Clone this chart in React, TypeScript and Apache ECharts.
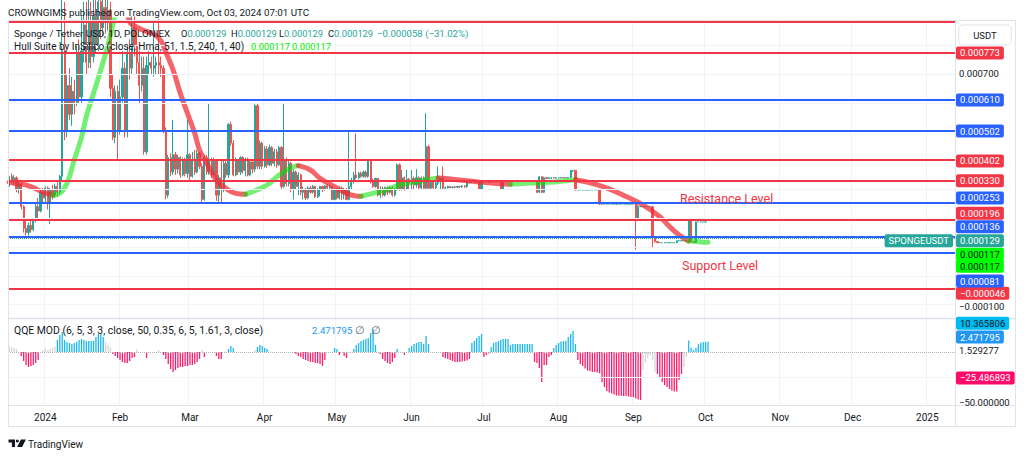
import React, { useEffect, useRef } from "react";
import * as echarts from "echarts";

const FONT = "Roboto, 'Noto Sans', Arial, sans-serif";
const TEXT = "#131722";
const UP = "#26a69a";
const DOWN = "#ef5350";
const RED = "#f23645";
const BLUE = "#2962ff";
const LIME = "#00ee00";
const HULL_UP = "rgba(0, 225, 0, 0.55)";
const HULL_DOWN = "rgba(242, 40, 50, 0.72)";
const QQE_BLUE = "#1cb8ea";
const QQE_PINK = "#fd1b6b";
const QQE_GRAY = "#d5d5d5";
const FRAME = "#e0e3eb";
const GRID = "#f0f3fa";

const FIRST_DAY = Date.UTC(2023, 11, 17);
const AXIS_DAYS = 393;
const MONTH_ABBR = ["Jan", "Feb", "Mar", "Apr", "May", "Jun", "Jul", "Aug", "Sep", "Oct", "Nov", "Dec"];

// Daily prices in millionths of USDT: [open, high, low, close]
const ohlcDec2023 = [
  [310, 355, 300, 345], [345, 355, 320, 330], [330, 350, 315, 340], [340, 345, 290, 300], [300, 330, 285, 320],
  [320, 325, 230, 240], [240, 245, 150, 165], [165, 195, 140, 150], [150, 185, 140, 175], [175, 195, 150, 160],
  [160, 200, 155, 195], [195, 250, 185, 240], [240, 270, 200, 225], [225, 300, 220, 290], [290, 305, 250, 270],
];
const ohlcJan = [
  [270, 310, 255, 305], [305, 310, 230, 250], [250, 305, 180, 300], [300, 315, 265, 280], [280, 320, 270, 310],
  [310, 325, 275, 290], [290, 350, 285, 345], [345, 1000, 330, 780], [780, 950, 470, 500], [500, 700, 480, 660],
  [660, 720, 540, 560], [560, 690, 520, 640], [640, 680, 560, 600], [600, 800, 590, 770], [770, 820, 600, 620],
  [620, 900, 600, 780], [780, 950, 740, 870], [870, 950, 700, 740], [740, 980, 720, 880], [880, 950, 720, 760],
  [760, 1000, 740, 900], [900, 960, 770, 800], [800, 1050, 780, 950], [950, 1050, 820, 860], [860, 1000, 830, 930],
  [930, 990, 840, 880], [880, 1000, 850, 920], [920, 950, 620, 650], [650, 700, 470, 480], [480, 660, 460, 640],
  [640, 660, 400, 500],
];
const ohlcFeb = [
  [500, 680, 490, 620], [620, 780, 600, 720], [720, 740, 480, 500], [500, 800, 480, 770], [770, 820, 680, 720],
  [720, 900, 700, 860], [860, 900, 760, 800], [800, 860, 700, 740], [740, 780, 600, 660], [660, 760, 640, 720],
  [720, 760, 420, 430], [430, 760, 420, 730], [730, 780, 700, 740], [740, 760, 700, 720], [720, 880, 690, 730],
  [730, 760, 700, 740], [740, 890, 700, 730], [730, 760, 690, 720], [720, 730, 495, 505], [505, 515, 265, 280],
  [280, 420, 270, 410], [410, 425, 345, 360], [360, 540, 350, 420], [420, 430, 350, 370], [370, 420, 355, 410],
  [410, 415, 340, 350], [350, 410, 345, 400], [400, 410, 345, 355], [355, 540, 340, 420],
];
const ohlcMar = [
  [420, 425, 330, 345], [345, 430, 340, 400], [400, 436, 350, 360], [360, 436, 355, 425], [425, 430, 370, 380],
  [380, 390, 255, 265], [265, 420, 260, 410], [410, 420, 350, 360], [360, 598, 350, 400], [400, 410, 340, 350],
  [350, 410, 345, 400], [400, 405, 260, 280], [280, 350, 255, 340], [340, 400, 250, 300], [300, 400, 290, 390],
  [390, 400, 340, 350], [350, 530, 340, 525], [525, 535, 450, 460], [460, 470, 345, 350], [350, 410, 345, 400],
  [400, 405, 350, 360], [360, 415, 350, 410], [410, 415, 355, 365], [365, 410, 345, 405], [405, 410, 345, 350],
  [350, 400, 345, 395], [395, 400, 355, 370], [370, 600, 360, 590], [590, 598, 370, 380], [380, 470, 370, 460],
  [460, 465, 370, 380],
];
const ohlcApr = [
  [380, 450, 375, 440], [440, 450, 375, 385], [385, 455, 380, 445], [445, 450, 380, 390], [390, 440, 380, 430],
  [430, 440, 375, 385], [385, 450, 380, 445], [445, 450, 300, 310], [310, 598, 305, 400], [400, 410, 310, 320],
  [320, 400, 310, 390], [390, 395, 290, 300], [300, 370, 265, 360], [360, 365, 300, 310], [310, 360, 280, 350],
  [350, 355, 280, 290], [290, 310, 265, 300], [300, 305, 263, 270], [270, 310, 265, 305], [305, 312, 285, 290],
  [290, 315, 285, 310], [310, 312, 270, 275], [275, 305, 270, 300], [300, 312, 275, 310], [310, 312, 290, 300],
  [300, 315, 295, 312], [312, 318, 300, 305], [305, 315, 300, 310], [310, 312, 262, 265], [265, 305, 262, 300],
];
const ohlcMay = [
  [300, 305, 265, 270], [270, 310, 265, 305], [305, 310, 262, 285], [285, 305, 265, 300], [300, 305, 262, 265],
  [265, 500, 262, 310], [310, 340, 300, 330], [330, 360, 320, 350], [350, 494, 335, 340], [340, 360, 335, 355],
  [355, 362, 340, 345], [345, 365, 340, 360], [360, 365, 340, 345], [345, 400, 340, 398], [398, 400, 320, 325],
  [325, 338, 305, 310], [310, 340, 305, 338], [338, 340, 275, 280], [280, 310, 270, 300], [300, 310, 275, 280],
  [280, 310, 275, 305], [305, 310, 280, 290], [290, 312, 285, 305], [305, 310, 275, 280], [280, 305, 275, 300],
  [300, 390, 295, 385], [385, 390, 295, 300], [300, 367, 295, 340], [340, 345, 295, 300], [300, 367, 298, 335],
  [335, 340, 300, 320],
];
const ohlcJun = [
  [320, 367, 300, 338], [338, 345, 300, 315], [315, 370, 305, 340], [340, 345, 300, 305], [305, 345, 300, 340],
  [340, 345, 300, 304], [304, 564, 300, 448], [448, 454, 300, 304], [304, 330, 300, 325], [325, 330, 300, 305],
  [305, 330, 300, 322], [322, 379, 315, 330], [330, 340, 300, 338], [338, 379, 300, 304], [304, 310, 300, 305],
  [305, 312, 303, 310], [310, 312, 304, 306], [306, 310, 304, 308], [308, 312, 304, 307], [307, 312, 305, 310],
  [310, 312, 305, 309], [309, 315, 305, 312], [312, 315, 305, 310], [310, 327, 305, 325], [325, 330, 320, 327],
  [327, 330, 322, 326], [326, 332, 322, 330], [330, 332, 322, 328], [328, 332, 298, 300], [300, 332, 298, 330],
];
const ohlcJul = [
  [330, 332, 322, 327], [327, 331, 322, 329], [329, 330, 322, 326], [326, 330, 322, 328], [328, 330, 324, 327],
  [327, 330, 324, 328], [328, 330, 324, 327], [327, 329, 298, 300], [300, 329, 298, 327], [327, 329, 325, 327],
  [327, 328, 326, 327], [327, 328, 326, 327], [327, 327, 327, 327], [327, 328, 326, 327], [327, 327, 327, 327],
  [327, 328, 326, 327], [327, 327, 327, 327], [327, 328, 326, 327], [327, 327, 327, 327], [327, 328, 326, 327],
  [327, 327, 327, 327], [327, 328, 326, 327], [327, 330, 287, 290], [290, 346, 287, 344], [344, 346, 287, 290],
  [290, 344, 287, 340], [340, 342, 335, 338], [338, 342, 336, 340], [340, 342, 336, 340], [340, 341, 338, 339],
  [339, 342, 337, 340],
];
const ohlcAug = [
  [340, 341, 338, 340], [340, 342, 338, 341], [341, 342, 339, 340], [340, 341, 338, 340], [340, 342, 338, 341],
  [341, 367, 338, 365], [365, 367, 360, 366], [366, 367, 296, 298], [298, 299, 297, 298], [298, 298, 298, 298],
  [298, 299, 297, 298], [298, 298, 298, 298], [298, 299, 297, 298], [298, 298, 298, 298], [298, 299, 297, 298],
  [298, 298, 298, 298], [298, 299, 297, 298], [298, 299, 246, 249], [249, 250, 248, 249], [249, 249, 249, 249],
  [249, 250, 248, 249], [249, 249, 249, 249], [249, 250, 248, 249], [249, 249, 249, 249], [249, 250, 248, 249],
  [249, 249, 249, 249], [249, 250, 248, 249], [249, 249, 249, 249], [249, 250, 248, 249], [249, 249, 249, 249],
  [249, 250, 248, 249],
];
const ohlcSep = [
  [249, 249, 249, 249], [249, 250, 90, 194], [194, 245, 190, 240], [240, 241, 239, 240], [240, 240, 240, 240],
  [240, 241, 239, 240], [240, 240, 240, 240], [240, 241, 239, 240], [240, 241, 96, 136], [136, 138, 115, 119],
  [119, 119, 114, 115], [115, 116, 114, 115], [115, 115, 115, 115], [115, 116, 114, 115], [115, 115, 115, 115],
  [115, 116, 114, 115], [115, 115, 115, 115], [115, 116, 114, 115], [115, 122, 115, 122], [122, 123, 121, 122],
  [122, 122, 122, 122], [122, 123, 121, 122], [122, 122, 119, 119], [119, 195, 117, 194], [194, 195, 117, 119],
  [119, 121, 115, 117], [117, 188, 115, 187], [187, 187, 187, 187], [187, 188, 186, 187], [187, 187, 187, 187],
];
const ohlcOct = [[187, 188, 186, 187], [129, 129, 129, 129]];

// Hull Suite band, [day index, value in millionths]
const hullSeg0 = [[0, 325], [2, 321], [6, 317], [10, 306], [14, 290], [18, 280]];
const hullSeg1 = [[18, 280], [21, 286], [24, 321], [27, 402], [30, 480], [32, 552], [35, 633], [38, 714], [41, 800], [43, 870], [45, 950], [47, 1000]];
const hullSeg2 = [[47, 1000], [50, 880], [53, 862], [56, 850], [60, 838], [63, 815], [65, 775], [68, 714], [71, 633], [74, 563], [77, 494], [79, 436], [82, 390], [86, 332], [90, 303], [94, 286], [98, 283]];
const hullSeg3 = [[98, 283], [101, 292], [107, 315], [112, 350], [117, 376], [120, 382]];
const hullSeg4 = [[120, 382], [125, 367], [129, 338], [135, 309], [140, 286], [144, 277], [146, 276]];
const hullSeg5 = [[146, 276], [151, 286], [157, 300], [162, 315], [168, 325], [173, 333], [178, 339]];
const hullSeg6 = [[178, 339], [184, 335], [190, 330], [195, 325], [201, 321], [208, 318]];
const hullSeg7 = [[208, 318], [217, 322], [226, 325], [231, 330], [235, 333]];
const hullSeg8 = [[235, 333], [241, 323], [245, 313], [250, 298], [256, 275], [263, 246], [270, 205], [274, 171], [278, 142], [282, 121]];
const hullSeg9 = [[282, 121], [285, 119], [288, 117], [290, 117]];
const hullTrend = ["down", "up", "down", "up", "down", "up", "down", "up", "down", "up"];
const hullLast = 117;

// QQE MOD histogram: [first day index, colour kind, values]
const qqeGroups: [number, string, number[]][] = [
  [0, "g", [6, 5, 4, 3]],
  [5, "p", [-4, -9, -13, -15, -14, -13, -11, -8]],
  [14, "g", [2, 3, 2, 3, 4, 5]],
  [20, "b", [12, 17, 20, 12, 10, 9, 8, 9, 10, 12, 13, 12, 11, 11, 11, 11, 15, 18, 19, 15]],
  [40, "g", [10, 7, 5]],
  [43, "p", [-2, -4, -6, -8, -10, -11, -11, -9, -6, -5]],
  [53, "g", [3]],
  [57, "p", [-6]],
  [62, "g", [2]],
  [64, "p", [-3, -7, -12, -17, -20, -18, -16, -15, -15, -14, -14, -13, -13, -12, -10, -7]],
  [80, "g", [2]],
  [81, "p", [-5]],
  [86, "p", [-4, -7, -7]],
  [91, "b", [3, 6, 4]],
  [102, "g", [2]],
  [103, "b", [5, 7, 6, 4, 3]],
  [119, "p", [-2, -4, -5, -7, -8, -9, -10, -10, -11, -11, -12, -14, -8]],
  [135, "b", [4, 3]],
  [137, "p", [-3]],
  [139, "p", [-4, -6]],
  [143, "b", [3, 7, 9, 11, 12, 13, 14, 19, 23, 7]],
  [154, "p", [-2, -7, -9, -11, -12, -10, -6]],
  [161, "b", [3]],
  [164, "p", [-3]],
  [166, "b", [4, 6, 8, 9, 10, 10, 8, 16, 8]],
  [180, "p", [-5, -6, -7, -8, -9, -10, -10, -10, -9.5, -9, -8.5, -7]],
  [192, "b", [9, 11, 14, 16, 18]],
  [197, "p", [-5, -3, -1.5]],
  [200, "b", [5, 9, 10, 11, 12, 13, 13, 13, 7, 8, 8, 8, 8, 8, 8, 8, 8, 8]],
  [218, "p", [-10, -11, -16, -30, -13, -13, -5, -3]],
  [226, "b", [4, 7, 9, 10.5, 11, 11.3, 15, 18, 21, 8]],
  [236, "p", [-8, -12, -14, -16.5, -18.5, -19, -20, -20, -20.5, -21.3, -30, -35, -39, -40.5, -41.5, -42.5, -43.5, -43.7, -43.7, -44, -44, -44.5, -45, -45.3, -46.5, -47.5, -48]],
  [263, "g", [-18, -11, -6, -3, -8, -20]],
  [269, "p", [-22, -26, -30, -33, -35, -37, -38.5, -39.5, -39.5, -28, -22]],
  [280, "g", [-15, -5]],
  [282, "b", [11.5, 4.3, 2]],
  [285, "b", [4.3, 7.7, 9.3, 10, 10.2, 10.37]],
];

// Horizontal levels (millionths of USDT)
const redLevels = [880, 773, 402, 330, 196, -46];
const blueLevels = [610, 502, 253, 136, 81];
const gridLevels = [800, 700, 600, 500, 400, 300, 200, 100, 0, -100];
const priceTicks = [700, -100];
const qqeTagValues = [10.365806, 2.471795, 1.529277, -25.486893, -50];

// layout-only nudges for overlapping axis tags (px)
const TAG_SHIFT: Record<string, number> = {
  "402": 1, "253": -5, "196": -6, "136": -10, "129": 2, hullA: 12, hullB: 24, "81": 28.5, "-46": 4, "-100": 2,
  q0: -18.5, q1: -12.5, q2: 0.5, q3: 0.5, q4: 0,
};

const candles = [...ohlcDec2023, ...ohlcJan, ...ohlcFeb, ...ohlcMar, ...ohlcApr, ...ohlcMay, ...ohlcJun, ...ohlcJul, ...ohlcAug, ...ohlcSep, ...ohlcOct];
const hullSegments = [hullSeg0, hullSeg1, hullSeg2, hullSeg3, hullSeg4, hullSeg5, hullSeg6, hullSeg7, hullSeg8, hullSeg9];

const dates = Array.from({ length: AXIS_DAYS }, (_, i) => new Date(FIRST_DAY + i * 86400000).toISOString().slice(0, 10));
const isMonthStart = (_i: number, v: string) => String(v).slice(8) === "01";
const monthLabel = (v: string) => {
  const m = +v.slice(5, 7);
  return m === 1 ? v.slice(0, 4) : MONTH_ABBR[m - 1];
};
const fmtPrice = (v: number) => (v < 0 ? "\u2212" : "") + (Math.abs(v) / 1e6).toFixed(6);
const fmtQqe = (v: number) => (v < 0 ? "\u2212" : "") + Math.abs(v).toFixed(6);

const TV_LOGO = "M0 0 H6.5 V7.6 H3.4 V3 H0 Z M7.3 1.5 A1.5 1.5 0 1 0 10.3 1.5 A1.5 1.5 0 1 0 7.3 1.5 Z M12.4 0 H17.4 L13.6 7.6 H8.6 Z";

function buildOption() {
  const kindColor: Record<string, string> = { b: QQE_BLUE, p: QQE_PINK, g: QQE_GRAY };
  const qqeData: any[] = new Array(candles.length).fill(null);
  qqeGroups.forEach(([start, kind, vals]) => {
    vals.forEach((v, k) => {
      qqeData[start + k] = { value: v, itemStyle: { color: kindColor[kind] } };
    });
  });

  const xBase = {
    type: "category",
    data: dates,
    boundaryGap: true,
    axisLine: { show: false },
    axisTick: { show: false },
    splitLine: { show: true, interval: isMonthStart, lineStyle: { color: GRID, width: 1 } },
  };

  const levelLines = [
    ...redLevels.map((v) => ({ yAxis: v, lineStyle: { color: RED, width: 2, type: "solid" } })),
    ...blueLevels.map((v) => ({ yAxis: v, lineStyle: { color: BLUE, width: 2, type: "solid" } })),
  ];
  const lastClose = candles[candles.length - 1][3];

  return {
    animation: false,
    backgroundColor: "#ffffff",
    textStyle: { fontFamily: FONT },
    grid: [
      { left: 8, top: 20, width: 947, height: 298 },
      { left: 8, top: 319, width: 947, height: 86 },
    ],
    xAxis: [
      { ...xBase, gridIndex: 0, axisLabel: { show: false } },
      {
        ...xBase,
        gridIndex: 1,
        axisLabel: {
          show: true,
          interval: isMonthStart,
          formatter: monthLabel,
          color: TEXT,
          fontSize: 10,
          fontFamily: FONT,
          margin: 7,
        },
      },
    ],
    yAxis: [
      { type: "value", gridIndex: 0, min: -146, max: 887, show: false },
      { type: "value", gridIndex: 1, min: -53, max: 33, show: false },
    ],
    series: [
      {
        type: "line",
        xAxisIndex: 0,
        yAxisIndex: 0,
        data: [],
        z: 1,
        silent: true,
        markLine: {
          silent: true,
          symbol: ["none", "none"],
          label: { show: false },
          lineStyle: { color: GRID, width: 1, type: "solid" },
          data: gridLevels.map((v) => ({ yAxis: v })),
        },
      },
      {
        type: "candlestick",
        xAxisIndex: 0,
        yAxisIndex: 0,
        z: 2,
        barWidth: 1.7,
        data: candles.map(([o, h, l, c]) => [o, c, l, h]),
        itemStyle: { color: UP, color0: DOWN, borderColor: UP, borderColor0: DOWN, borderWidth: 1 },
      },
      ...hullSegments.map((seg, i) => ({
        type: "line",
        xAxisIndex: 0,
        yAxisIndex: 0,
        data: seg,
        smooth: 0.4,
        showSymbol: false,
        symbol: "none",
        silent: true,
        z: 4,
        lineStyle: { width: 5, color: hullTrend[i] === "up" ? HULL_UP : HULL_DOWN, cap: "round" },
      })),
      {
        type: "line",
        xAxisIndex: 0,
        yAxisIndex: 0,
        data: [],
        z: 5,
        silent: true,
        markLine: {
          silent: true,
          symbol: ["none", "none"],
          label: { show: false },
          data: [
            ...levelLines,
            { yAxis: lastClose, lineStyle: { color: UP, width: 1, type: "dotted" } },
          ],
        },
      },
      {
        type: "bar",
        xAxisIndex: 1,
        yAxisIndex: 1,
        barWidth: 1.3,
        data: qqeData,
        z: 2,
        silent: true,
      },
      {
        type: "line",
        xAxisIndex: 1,
        yAxisIndex: 1,
        data: [],
        z: 1,
        silent: true,
        markLine: {
          silent: true,
          symbol: ["none", "none"],
          label: { show: false },
          data: [
            { yAxis: 0, lineStyle: { color: "#b2b5be", width: 1, type: "dotted" } },
            { yAxis: -25, lineStyle: { color: GRID, width: 1, type: "solid" } },
          ],
        },
      },
    ],
  };
}

function txt(x: number, y: number, text: string, fill: string, size = 9, extra: any = {}) {
  return {
    type: "text",
    x,
    y,
    z: 100,
    silent: true,
    style: { text, fill, fontSize: size, fontFamily: FONT, verticalAlign: "middle", ...extra },
  };
}

function tag(x: number, y: number, text: string, bg: string, fg: string, align = "left") {
  return txt(x, y, text, fg, 9.5, { backgroundColor: bg, padding: [2, 4, 1, 4], borderRadius: 2, align });
}

function buildGraphics(chart: any) {
  const py = (v: number) => chart.convertToPixel({ yAxisIndex: 0 }, v);
  const qy = (v: number) => chart.convertToPixel({ yAxisIndex: 1 }, v);
  const last = candles[candles.length - 1];
  const prev = candles[candles.length - 2];
  const change = last[3] - prev[3];
  const pct = (change / prev[3]) * 100;
  const sgn = (v: number) => (v < 0 ? "\u2212" : "+");
  const rich = {
    k: { fill: TEXT, fontSize: 9.3, fontFamily: FONT },
    v: { fill: UP, fontSize: 9.3, fontFamily: FONT },
  };
  const g: any[] = [];

  // frame
  g.push({ type: "rect", z: 90, silent: true, shape: { x: 8.5, y: 20.5, width: 1007, height: 406 }, style: { fill: "none", stroke: FRAME, lineWidth: 1 } });
  g.push({ type: "line", z: 90, silent: true, shape: { x1: 955.5, y1: 20, x2: 955.5, y2: 427 }, style: { stroke: FRAME, lineWidth: 1 } });
  g.push({ type: "line", z: 90, silent: true, shape: { x1: 8, y1: 318.5, x2: 1016, y2: 318.5 }, style: { stroke: FRAME, lineWidth: 1.5 } });
  g.push({ type: "line", z: 90, silent: true, shape: { x1: 8, y1: 405.5, x2: 1016, y2: 405.5 }, style: { stroke: FRAME, lineWidth: 1 } });

  // header + legends
  g.push(txt(8, 12, "CROWNGIMS published on TradingView.com, Oct 03, 2024 07:01 UTC", TEXT, 9.8));
  g.push(txt(14, 33, "Sponge / Tether USD, 1D, POLONIEX", TEXT, 9.8));
  const p = (v: number) => (v / 1e6).toFixed(6);
  g.push(txt(181, 33, `{k|O}{v|${p(last[0])}}`, TEXT, 9.3, { rich }));
  g.push(txt(231, 33, `{k|H}{v|${p(last[1])}}`, TEXT, 9.3, { rich }));
  g.push(txt(279, 33, `{k|L}{v|${p(last[2])}}`, TEXT, 9.3, { rich }));
  g.push(txt(328, 33, `{k|C}{v|${p(last[3])}}`, TEXT, 9.3, { rich }));
  g.push(txt(377, 33, `${sgn(change)}${p(Math.abs(change))} (${sgn(pct)}${Math.abs(pct).toFixed(2)}%)`, UP, 9.6));
  g.push(txt(14, 46, "Hull Suite by InSilico (close, Hma, 51, 1.5, 240, 1, 40)", TEXT, 10));
  g.push(txt(251, 46, p(hullLast), LIME, 9.3));
  g.push(txt(292, 46, p(hullLast), LIME, 9.3));
  g.push(txt(14, 330, "QQE MOD (6, 5, 3, 3, close, 50, 0.35, 6, 5, 1.61, 3, close)", TEXT, 10.4));
  g.push(txt(312, 330, qqeTagValues[1].toFixed(6), "#2196f3", 9.6));
  g.push(txt(355, 330, "\u2205", "#6a6d78", 10.5));
  g.push(txt(371, 330, "\u2205", "#6a6d78", 10.5));

  // annotations
  g.push(txt(680, 198, "Resistance Level", RED, 12.5));
  g.push(txt(682, 265, "Support Level", RED, 12.5));

  // right axis: currency box
  g.push(txt(985, 35, "USDT", TEXT, 9.5, { align: "center", borderColor: FRAME, borderWidth: 1, borderRadius: 4, padding: [5, 14, 4, 14], backgroundColor: "#fff" }));

  // plain ticks
  priceTicks.forEach((v) => g.push(txt(959, py(v) + (TAG_SHIFT[String(v)] || 0), fmtPrice(v), TEXT, 9.5)));

  // level tags
  redLevels.forEach((v) => {
    if (v > 850) return;
    g.push(tag(956, py(v) + (TAG_SHIFT[String(v)] || 0), fmtPrice(v), RED, "#fff"));
  });
  blueLevels.forEach((v) => g.push(tag(956, py(v) + (TAG_SHIFT[String(v)] || 0), fmtPrice(v), BLUE, "#fff")));
  const lc = last[3];
  g.push(tag(956, py(lc) + TAG_SHIFT["129"], fmtPrice(lc), UP, "#fff"));
  g.push(tag(953, py(lc) + TAG_SHIFT["129"], "SPONGEUSDT", UP, "#fff", "right"));
  g.push(tag(956, py(hullLast) + TAG_SHIFT.hullA, fmtPrice(hullLast), "#00ff00", TEXT));
  g.push(tag(956, py(hullLast) + TAG_SHIFT.hullB, fmtPrice(hullLast), "#00ff00", TEXT));

  // QQE tags
  const qStyles = [
    ["#00bcf2", TEXT],
    ["#2196f3", "#fff"],
    ["", TEXT],
    ["#ff0a6a", "#fff"],
    ["", TEXT],
  ];
  qqeTagValues.forEach((v, i) => {
    const y = qy(v) + TAG_SHIFT["q" + i];
    const [bg, fg] = qStyles[i];
    if (bg) g.push(tag(956, y, fmtQqe(v), bg, fg));
    else g.push(txt(959, y, fmtQqe(v), fg, 9.5));
  });

  // TradingView watermark
  g.push({ type: "tvlogo", x: 8.5, y: 439.5, z: 100, silent: true, style: { fill: TEXT } });
  g.push(txt(28, 444, "TradingView", TEXT, 10));
  return g;
}

let logoRegistered = false;

export default function App() {
  const ref = useRef<HTMLDivElement>(null);
  useEffect(() => {
    if (!logoRegistered) {
      echarts.graphic.registerShape("tvlogo", echarts.graphic.extendPath(TV_LOGO, {}));
      logoRegistered = true;
    }
    const el = ref.current!;
    const chart = echarts.init(el, undefined, { renderer: "svg" });
    chart.setOption(buildOption() as any);
    chart.setOption({ graphic: buildGraphics(chart) } as any);
    return () => chart.dispose();
  }, []);
  return (
    <div
      ref={ref}
      style={{ position: "fixed", left: 0, top: 0, width: 1024, height: 458, background: "#ffffff" }}
    />
  );
}
